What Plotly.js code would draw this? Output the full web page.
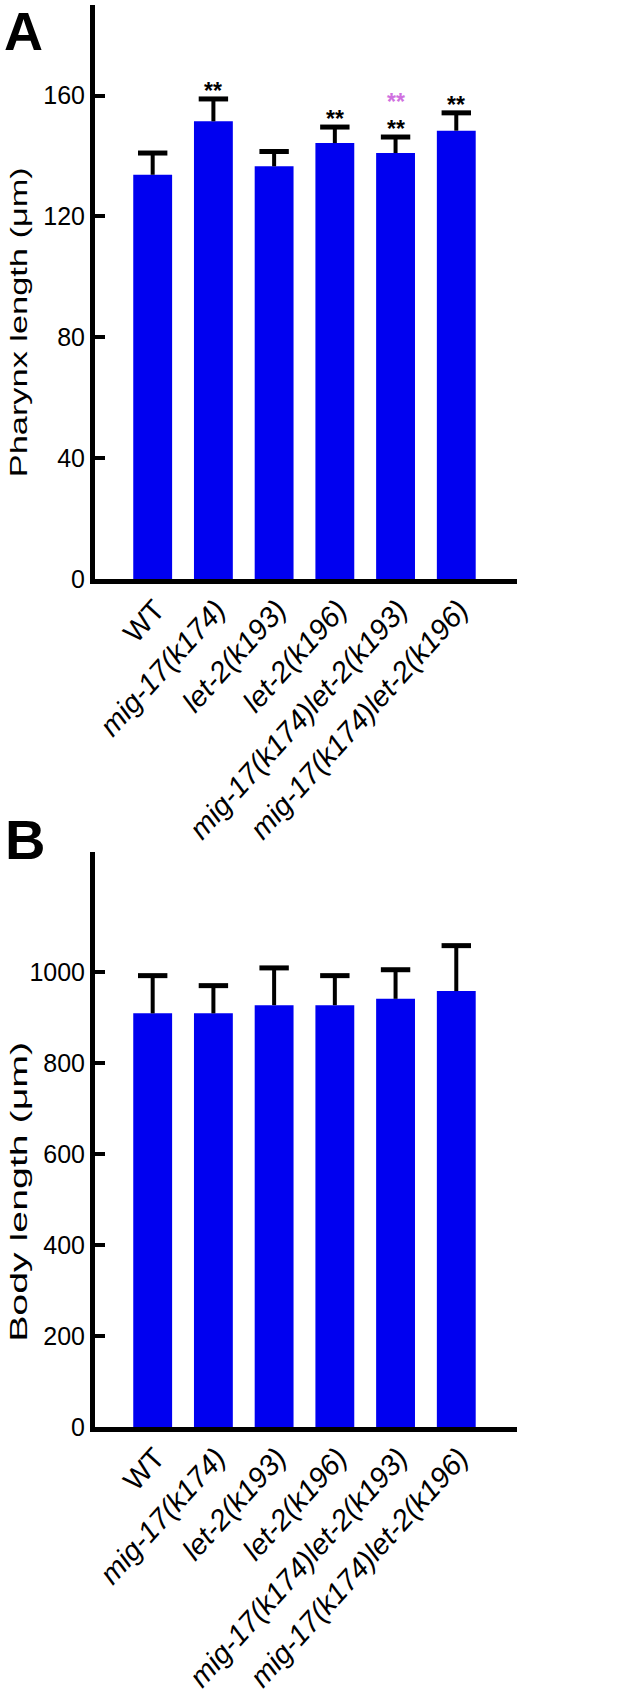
<!DOCTYPE html>
<html>
<head>
<meta charset="utf-8">
<script src="https://cdn.plot.ly/plotly-3.0.1.min.js"></script>
<style>html,body{margin:0;padding:0;background:#fff;}</style>
</head>
<body>
<div id="chart" style="width:618px;height:1701px"></div>
<script>
// ---- data ----
const categories = ['WT', 'mig-17(k174)', 'let-2(k193)', 'let-2(k196)', 'mig-17(k174)let-2(k193)', 'mig-17(k174)let-2(k196)'];
const tickLabels = ['WT', '<i>mig-17(k174)</i>', '<i>let-2(k193)</i>', '<i>let-2(k196)</i>', '<i>mig-17(k174)let-2(k193)</i>', '<i>mig-17(k174)let-2(k196)</i>'];
const pharynxMean = [133.8, 151.5, 136.6, 144.3, 141.0, 148.4];
const pharynxErr = [7.2, 7.4, 4.9, 5.3, 5.3, 5.9];
const bodyMean = [910, 910, 928, 928, 942, 959];
const bodyErr = [83, 61, 82, 65, 64, 100];
const sigBlack = ['', '**', '', '**', '**', '**'];
const sigPink = ['', '', '', '', '**', ''];
const pharynxTicks = [0, 40, 80, 120, 160];
const bodyTicks = [0, 200, 400, 600, 800, 1000];
const titleA = 'Pharynx length (μm)';
const titleB = 'Body length (μm)';

const W = 618, H = 1701;
const BAR = '#0000f0';
const FONT = 'Liberation Sans, Arial, Helvetica, sans-serif';

function barTrace(means, errs, xa, ya) {
  return {
    type: 'bar', x: categories, y: means, xaxis: xa, yaxis: ya,
    width: 0.64, marker: {color: BAR, line: {width: 0}},
    error_y: {type: 'data', symmetric: false, array: errs, arrayminus: errs.map(() => 0),
              color: 'black', thickness: 4, width: 0},
    hoverinfo: 'x+y'
  };
}
function capTrace(means, errs, xa, ya) {
  return {
    type: 'scatter', mode: 'markers', x: categories, y: means.map((m, i) => m + errs[i]),
    xaxis: xa, yaxis: ya,
    marker: {symbol: 'line-ew', size: 21, line: {width: 5, color: 'black'}},
    hoverinfo: 'skip'
  };
}

const data = [
  barTrace(pharynxMean, pharynxErr, 'x', 'y'),
  capTrace(pharynxMean, pharynxErr, 'x', 'y'),
  barTrace(bodyMean, bodyErr, 'x2', 'y2'),
  capTrace(bodyMean, bodyErr, 'x2', 'y2')
];

const xDomain = [95 / W, 517 / W];
const yDomA = [(H - 579) / H, (H - 5) / H];
const yDomB = [(H - 1427) / H, (H - 852) / H];

function xAxis(anchor) {
  return {
    domain: xDomain, anchor: anchor, type: 'category', range: [-0.95, 6.0],
    tickmode: 'array', tickvals: categories, ticktext: tickLabels,
    showline: true, linewidth: 5, linecolor: 'black', ticks: '',
    tickangle: -48, tickfont: {family: FONT, size: 29, color: 'black'},
    ticklabelstandoff: -3, ticklabelshift: 3,
    showgrid: false, zeroline: false, fixedrange: true
  };
}
function yAxis(anchor, dom, range, ticks) {
  return {
    domain: dom, anchor: anchor, range: range,
    tickmode: 'array', tickvals: ticks,
    showline: true, linewidth: 5, linecolor: 'black',
    ticks: 'inside', ticklen: 10, tickwidth: 4, tickcolor: 'black',
    tickfont: {family: FONT, size: 25, color: 'black'},
    showgrid: false, zeroline: false, fixedrange: true
  };
}

const annotations = [];
// asterisks
categories.forEach((c, i) => {
  if (sigBlack[i]) annotations.push({xref: 'x', yref: 'y', x: c, y: pharynxMean[i] + pharynxErr[i],
    text: '<b>' + sigBlack[i] + '</b>', showarrow: false, yanchor: 'bottom', yshift: -6, borderpad: 0,
    font: {family: FONT, size: 23, color: 'black'}});
  if (sigPink[i]) annotations.push({xref: 'x', yref: 'y', x: c, y: pharynxMean[i] + pharynxErr[i],
    text: '<b>' + sigPink[i] + '</b>', showarrow: false, yanchor: 'bottom', yshift: 21.5, borderpad: 0,
    font: {family: FONT, size: 23, color: '#d070e0'}});
});
// panel letters
annotations.push({xref: 'paper', yref: 'paper', x: 24 / W, y: 1, text: '<b>A</b>', showarrow: false,
  xanchor: 'center', yanchor: 'top', borderpad: 0, font: {family: FONT, size: 54, color: 'black'}});
annotations.push({xref: 'paper', yref: 'paper', x: 24.5 / W, y: 1 - 839 / H, text: '<b>B</b>', showarrow: false,
  xanchor: 'center', yanchor: 'middle', borderpad: 0, font: {family: FONT, size: 56, color: 'black'}});
// axis titles
annotations.push({xref: 'paper', yref: 'paper', x: 17.5 / W, y: 1 - 322 / H, text: titleA,
  textangle: -90, showarrow: false, xanchor: 'center', yanchor: 'middle',
  font: {family: FONT, size: 24, color: 'black'}});
annotations.push({xref: 'paper', yref: 'paper', x: 17.5 / W, y: 1 - 1192 / H, text: titleB,
  textangle: -90, showarrow: false, xanchor: 'center', yanchor: 'middle',
  font: {family: FONT, size: 24, color: 'black'}});

const layout = {
  width: W, height: H, margin: {l: 0, r: 0, t: 0, b: 0}, showlegend: false,
  paper_bgcolor: 'white', plot_bgcolor: 'white',
  font: {family: FONT, color: 'black'},
  xaxis: xAxis('y'),
  yaxis: yAxis('x', yDomA, [0, 190], pharynxTicks),
  xaxis2: xAxis('y2'),
  yaxis2: yAxis('x2', yDomB, [0, 1265], bodyTicks),
  annotations: annotations
};

Plotly.newPlot('chart', data, layout, {displayModeBar: false, staticPlot: true}).then(gd => {
  // the reference draws its axis titles with elongated glyphs: stretch them to the measured lengths,
  // keeping each title centred where it was placed
  const lengths = {};
  lengths[titleA] = 310;
  lengths[titleB] = 300;
  gd.querySelectorAll('.annotation-text').forEach(t => {
    const L = lengths[t.textContent];
    if (!L) return;
    const b0 = t.getBBox();
    const c0 = b0.x + b0.width / 2;
    t.setAttribute('textLength', L);
    t.setAttribute('lengthAdjust', 'spacingAndGlyphs');
    const b1 = t.getBBox();
    const c1 = b1.x + b1.width / 2;
    const x = parseFloat(t.getAttribute('x')) || 0;
    t.setAttribute('x', x + (c0 - c1));
  });
});
</script>
</body>
</html>
